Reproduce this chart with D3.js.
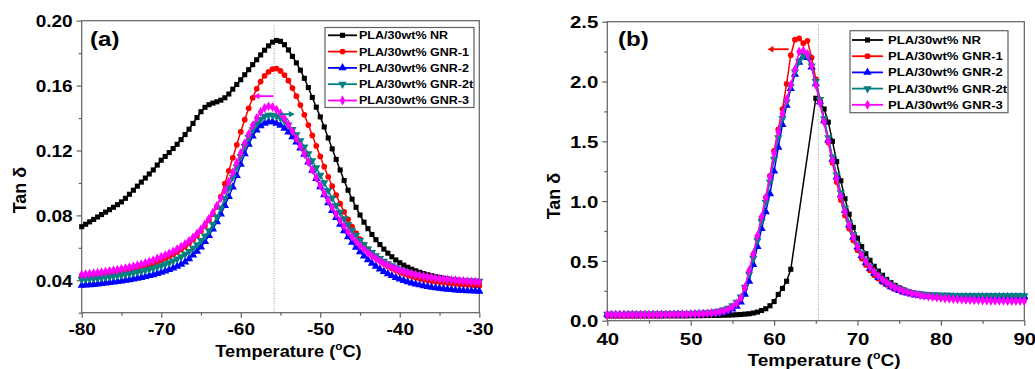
<!DOCTYPE html>
<html><head><meta charset="utf-8">
<script src="https://cdn.jsdelivr.net/npm/d3@7"></script>
<style>
body{margin:0;background:#fff;}
svg{display:block;font-family:"Liberation Sans",Arial,sans-serif;}
</style></head><body>
<svg id="chart" width="1035" height="369"></svg>
<script>
// ---------- data ----------
const seriesNames = ["PLA/30wt% NR","PLA/30wt% GNR-1","PLA/30wt% GNR-2","PLA/30wt% GNR-2t","PLA/30wt% GNR-3"];
const seriesColors = ["#000000","#ff0000","#0000ff","#008080","#ff00ff"];

// panel (a): temperature scan -80 .. -30 °C, 0.5 °C step
const tempA = d3.range(-80, -29.99, 0.5);
const nrA = [0.073,0.0745,0.076,0.0775,0.079,0.0805,0.082,0.0835,0.085,0.0866,
 0.0883,0.0905,0.093,0.0955,0.098,0.1005,0.103,0.1055,0.108,0.111,
 0.114,0.1163,0.1187,0.1212,0.1238,0.1267,0.1298,0.1331,0.1367,0.1403,
 0.1439,0.1466,0.1482,0.1492,0.15,0.151,0.1525,0.1548,0.1578,0.1607,
 0.1636,0.1667,0.1698,0.1729,0.1759,0.1789,0.1818,0.1845,0.1868,0.1878,
 0.1873,0.1852,0.182,0.178,0.174,0.1695,0.1645,0.1588,0.1527,0.1467,
 0.1407,0.1345,0.1277,0.121,0.1145,0.108,0.1015,0.0955,0.09,0.085,
 0.0802,0.0758,0.0718,0.0682,0.065,0.062,0.0592,0.0567,0.0545,0.0525,
 0.0508,0.0493,0.048,0.0468,0.0458,0.0449,0.0441,0.0434,0.0428,0.0422,
 0.0417,0.0412,0.0408,0.0404,0.0401,0.0398,0.0396,0.0394,0.0392,0.039,
 0.0388];
const gnr1A = [0.0425,0.0427,0.0429,0.0431,0.0434,0.0437,0.044,0.0443,0.0447,0.0451,
 0.0455,0.046,0.0465,0.047,0.0476,0.0482,0.0489,0.0496,0.0504,0.0513,
 0.0523,0.0534,0.0546,0.0559,0.0574,0.059,0.0608,0.0628,0.065,0.0675,
 0.0703,0.0734,0.0769,0.0808,0.0852,0.0915,0.0995,0.1075,0.1155,0.1235,
 0.1315,0.139,0.146,0.1525,0.158,0.1625,0.166,0.1685,0.1702,0.1705,
 0.169,0.1665,0.163,0.1585,0.1535,0.148,0.142,0.1357,0.1293,0.1228,
 0.1163,0.11,0.1038,0.098,0.0925,0.0872,0.0822,0.0775,0.0731,0.069,
 0.0653,0.062,0.059,0.0563,0.054,0.052,0.0502,0.0487,0.0473,0.0461,
 0.045,0.044,0.0432,0.0424,0.0417,0.0411,0.0405,0.04,0.0396,0.0392,
 0.0389,0.0386,0.0383,0.038,0.0378,0.0376,0.0374,0.0372,0.037,0.0368,
 0.0366];
const gnr2A = [0.0368,0.037,0.0372,0.0374,0.0376,0.0379,0.0382,0.0385,0.0388,0.0391,
 0.0395,0.0399,0.0403,0.0407,0.0412,0.0417,0.0422,0.0428,0.0434,0.0441,
 0.0448,0.0456,0.0465,0.0475,0.0486,0.0498,0.0512,0.0532,0.0555,0.0578,
 0.0605,0.0638,0.0675,0.0716,0.076,0.0808,0.086,0.0915,0.0975,0.1045,
 0.1115,0.118,0.1238,0.1288,0.1325,0.1352,0.1368,0.1377,0.1376,0.1368,
 0.1355,0.1337,0.1313,0.1284,0.1251,0.1215,0.1176,0.1128,0.1078,0.1027,
 0.0976,0.0926,0.0877,0.083,0.0786,0.0744,0.0705,0.0668,0.0634,0.0603,
 0.0575,0.0549,0.0526,0.0505,0.0486,0.0469,0.0454,0.044,0.0428,0.0417,
 0.0407,0.0398,0.039,0.0383,0.0377,0.0371,0.0366,0.0361,0.0357,0.0353,
 0.035,0.0347,0.0344,0.0342,0.034,0.0338,0.0336,0.0335,0.0334,0.0333,
 0.0332];
const gnr2tA = [0.0405,0.0407,0.0409,0.0411,0.0413,0.0416,0.0419,0.0422,0.0425,0.0429,
 0.0433,0.0437,0.0441,0.0446,0.0451,0.0456,0.0462,0.0468,0.0475,0.0482,
 0.049,0.0499,0.0509,0.052,0.0532,0.0546,0.0561,0.0578,0.0598,0.062,
 0.0645,0.0673,0.0705,0.0745,0.079,0.0845,0.0905,0.097,0.1035,0.11,
 0.1163,0.1225,0.128,0.1328,0.1365,0.1392,0.141,0.1418,0.1417,0.1411,
 0.14,0.1382,0.1358,0.133,0.1297,0.1261,0.1222,0.1181,0.1138,0.1094,
 0.1048,0.1001,0.0954,0.0907,0.0862,0.082,0.078,0.0743,0.0708,0.0676,
 0.0646,0.0619,0.0594,0.0572,0.0552,0.0534,0.0518,0.0503,0.049,0.0478,
 0.0467,0.0458,0.045,0.0443,0.0436,0.043,0.0425,0.0421,0.0417,0.0413,
 0.041,0.0407,0.0405,0.0403,0.0401,0.04,0.0399,0.0398,0.0397,0.0396,
 0.0395];
const gnr3A = [0.0435,0.0437,0.044,0.0443,0.0446,0.0449,0.0453,0.0457,0.0461,0.0465,
 0.047,0.0475,0.048,0.0486,0.0492,0.0499,0.0507,0.0515,0.0524,0.0534,
 0.0544,0.0555,0.0566,0.0578,0.0592,0.0607,0.0624,0.0643,0.0664,0.0688,
 0.0715,0.0746,0.078,0.0818,0.086,0.0906,0.0955,0.1008,0.1065,0.1125,
 0.1185,0.1245,0.1302,0.1355,0.14,0.1437,0.1462,0.1472,0.1468,0.1452,
 0.1428,0.1397,0.136,0.1318,0.1273,0.1226,0.1178,0.1129,0.108,0.1031,
 0.0983,0.0936,0.0891,0.0848,0.0807,0.0768,0.0732,0.0698,0.0667,0.0639,
 0.0613,0.059,0.0569,0.055,0.0533,0.0518,0.0504,0.0492,0.0481,0.0471,
 0.0462,0.0454,0.0447,0.0441,0.0435,0.043,0.0425,0.0421,0.0417,0.0413,
 0.041,0.0407,0.0404,0.0402,0.04,0.0398,0.0396,0.0394,0.0392,0.0391,
 0.039];

// panel (b): temperature scan 40 .. 90 °C, 0.5 °C step (null = no reading)
const tempB = d3.range(40, 90.01, 0.5);
const nrB = [0.04,0.04,0.04,0.04,0.04,0.04,0.04,0.04,0.04,0.04,
 0.04,0.04,0.04,0.04,0.041,0.041,0.041,0.041,0.041,0.041,
 0.042,0.042,0.042,0.043,0.043,0.044,0.044,0.045,0.046,0.047,
 0.048,0.05,0.052,0.055,0.058,0.064,0.072,0.085,0.1,0.125,
 0.16,0.22,0.27,0.33,0.43,null,null,null,null,null,
 1.86,1.83,1.77,1.66,1.5,1.33,1.17,1.02,0.89,0.78,
 0.69,0.62,0.56,0.505,0.455,0.415,0.38,0.345,0.318,0.295,
 0.275,0.258,0.245,0.234,0.225,0.218,0.212,0.207,0.203,0.2,
 0.198,0.197,0.196,0.195,0.194,0.194,0.193,0.193,0.192,0.192,
 0.191,0.191,0.19,0.19,0.19,0.189,0.189,0.189,0.188,0.188,
 0.188];
const gnr1B = [0.048,0.048,0.048,0.048,0.048,0.048,0.049,0.049,0.049,0.049,
 0.049,0.05,0.05,0.05,0.05,0.051,0.051,0.052,0.052,0.053,
 0.054,0.055,0.056,0.058,0.06,0.062,0.065,0.07,0.078,0.09,
 0.11,0.14,0.185,0.27,0.4,0.55,0.7,0.86,1.03,1.21,
 1.42,1.6,1.77,1.98,2.22,2.35,2.36,2.32,2.34,2.2,
 2.02,1.85,1.67,1.49,1.32,1.16,1.01,0.88,0.77,0.67,
 0.59,0.52,0.465,0.42,0.38,0.35,0.322,0.3,0.28,0.265,
 0.252,0.242,0.234,0.228,0.222,0.218,0.214,0.211,0.209,0.207,
 0.205,0.204,0.203,0.202,0.201,0.2,0.2,0.199,0.199,0.198,
 0.198,0.197,0.197,0.197,0.196,0.196,0.196,0.195,0.195,0.195,
 0.195];
const gnr2B = [0.05,0.05,0.05,0.05,0.05,0.05,0.05,0.05,0.05,0.05,
 0.05,0.051,0.051,0.051,0.052,0.052,0.052,0.053,0.053,0.054,
 0.055,0.056,0.057,0.058,0.059,0.06,0.062,0.066,0.072,0.082,
 0.097,0.12,0.155,0.22,0.33,0.47,0.62,0.77,0.91,1.06,
 1.25,1.45,1.64,1.8,1.94,2.06,2.16,2.21,2.2,2.12,
 1.98,1.83,1.67,1.51,1.35,1.2,1.05,0.92,0.8,0.7,
 0.615,0.545,0.485,0.435,0.395,0.36,0.33,0.305,0.284,0.266,
 0.252,0.24,0.23,0.222,0.215,0.21,0.206,0.203,0.201,0.2,
 0.2,0.2,0.2,0.2,0.2,0.2,0.2,0.2,0.2,0.2,
 0.2,0.2,0.2,0.2,0.2,0.2,0.2,0.2,0.2,0.2,
 0.2];
const gnr2tB = [0.055,0.055,0.055,0.055,0.055,0.056,0.056,0.056,0.056,0.057,
 0.057,0.057,0.058,0.058,0.058,0.059,0.059,0.06,0.06,0.061,
 0.062,0.063,0.064,0.066,0.068,0.071,0.075,0.082,0.092,0.105,
 0.125,0.155,0.2,0.28,0.39,0.52,0.67,0.83,0.99,1.16,
 1.35,1.53,1.69,1.83,1.96,2.08,2.17,2.22,2.21,2.13,
 2.0,1.85,1.69,1.53,1.37,1.22,1.07,0.94,0.82,0.72,
 0.635,0.565,0.505,0.455,0.413,0.378,0.348,0.322,0.3,0.282,
 0.267,0.255,0.245,0.237,0.231,0.226,0.222,0.219,0.217,0.215,
 0.214,0.213,0.213,0.212,0.212,0.212,0.211,0.211,0.211,0.211,
 0.21,0.21,0.21,0.21,0.21,0.21,0.21,0.21,0.21,0.21,
 0.21];
const gnr3B = [0.05,0.05,0.05,0.05,0.05,0.05,0.05,0.05,0.05,0.05,
 0.05,0.05,0.05,0.051,0.051,0.052,0.052,0.053,0.053,0.054,
 0.055,0.056,0.057,0.059,0.061,0.064,0.068,0.074,0.082,0.095,
 0.115,0.145,0.19,0.28,0.42,0.56,0.71,0.87,1.03,1.2,
 1.4,1.58,1.73,1.85,1.97,2.1,2.25,2.26,2.23,2.13,
 1.97,1.82,1.66,1.5,1.34,1.19,1.04,0.91,0.8,0.7,
 0.62,0.55,0.495,0.45,0.41,0.375,0.345,0.32,0.296,0.277,
 0.261,0.248,0.237,0.228,0.22,0.213,0.207,0.202,0.197,0.193,
 0.189,0.186,0.183,0.18,0.178,0.176,0.174,0.173,0.171,0.17,
 0.169,0.168,0.167,0.167,0.166,0.166,0.165,0.165,0.165,0.164,
 0.164];

// axis ticks
const xTicksA = [-80,-70,-60,-50,-40,-30];
const xMinorA = [-75,-65,-55,-45,-35];
const yTicksA = [0.04,0.08,0.12,0.16,0.20];
const yMinorA = [0.02,0.06,0.10,0.14,0.18];
const xTicksB = [40,50,60,70,80,90];
const xMinorB = [45,55,65,75,85];
const yTicksB = [0,0.5,1.0,1.5,2.0,2.5];
const yMinorB = [0.25,0.75,1.25,1.75,2.25];

// annotations (data units)
const peakLineA = -55.8;
const peakLineB = 65.3;
const arrowsA = [{from:-55.9,to:-58.4,v:0.1535,color:"#ff00ff"},{from:-55.1,to:-53.2,v:0.1424,color:"#008080"}];
const arrowsB = [{from:61.75,to:59.2,v:2.27,color:"#ff0000"}];

// ---------- drawing ----------
const svg = d3.select("#chart");
const symbols = [
  {type:d3.symbolSquare, size:26, rot:0},
  {type:d3.symbolCircle, size:26, rot:0},
  {type:d3.symbolTriangle, size:30, rot:0},
  {type:d3.symbolTriangle, size:30, rot:180},
  {type:d3.symbolDiamond, size:28, rot:0}
];
const FRAME = "#606060";

function drawPanel(cfg){
  const g = svg.append("g");
  const x = d3.scaleLinear().domain(cfg.xDomain).range(cfg.xRange);
  const y = d3.scaleLinear().domain(cfg.yDomain).range(cfg.yRange);
  const [x0,x1] = cfg.xRange, [yb,yt] = cfg.yRange;

  // minor ticks
  g.append("g").attr("transform",`translate(0,${yb})`)
    .call(d3.axisBottom(x).tickValues(cfg.xMinor).tickSize(3).tickFormat(""))
    .call(a=>a.select(".domain").remove())
    .call(a=>a.selectAll("line").attr("stroke",FRAME).attr("stroke-width",1.2));
  g.append("g").attr("transform",`translate(${x0},0)`)
    .call(d3.axisLeft(y).tickValues(cfg.yMinor).tickSize(3).tickFormat(""))
    .call(a=>a.select(".domain").remove())
    .call(a=>a.selectAll("line").attr("stroke",FRAME).attr("stroke-width",1.2));
  // major ticks + labels
  const ax = g.append("g").attr("transform",`translate(0,${yb})`)
    .call(d3.axisBottom(x).tickValues(cfg.xTicks).tickSize(5).tickSizeOuter(0).tickFormat(d=>String(d)));
  ax.select(".domain").remove();
  ax.selectAll("line").attr("stroke",FRAME).attr("stroke-width",1.2);
  ax.selectAll("text").attr("y",cfg.xLabelY).attr("dy",null)
    .attr("transform",`scale(${cfg.tickSx},1)`)
    .style("font-size","17px").style("font-weight","bold").attr("fill","#000");
  const ay = g.append("g").attr("transform",`translate(${x0},0)`)
    .call(d3.axisLeft(y).tickValues(cfg.yTicks).tickSize(5).tickSizeOuter(0).tickFormat(d3.format(cfg.yFmt)));
  ay.select(".domain").remove();
  ay.selectAll("line").attr("stroke",FRAME).attr("stroke-width",1.2);
  ay.selectAll("text").attr("x",-cfg.yLabelGap/cfg.tickSx).attr("dy","0.36em")
    .attr("transform",`scale(${cfg.tickSx},1)`)
    .style("font-size","17px").style("font-weight","bold").attr("fill","#000");

  // frame
  g.append("rect").attr("x",x0).attr("y",yt).attr("width",x1-x0).attr("height",yb-yt)
    .attr("fill","none").attr("stroke",FRAME).attr("stroke-width",1.2);

  // dotted guide
  g.append("line").attr("x1",x(cfg.guide)).attr("x2",x(cfg.guide))
    .attr("y1",y(cfg.guideTop)).attr("y2",yb)
    .attr("stroke","#9a9a9a").attr("stroke-width",1).attr("stroke-dasharray","1,1.5");

  // series
  const line = d3.line().x(d=>x(d[0])).y(d=>y(d[1]));
  cfg.series.forEach((vals,i)=>{
    const pts = cfg.temps.map((t,j)=>[t,vals[j]]).filter(d=>d[1]!=null);
    g.append("path").attr("d",line(pts)).attr("fill","none")
      .attr("stroke",seriesColors[i]).attr("stroke-width",1.5);
    const s = symbols[i];
    const sym = d3.symbol().type(s.type).size(s.size)();
    g.append("g").selectAll("path").data(pts).join("path")
      .attr("d",sym)
      .attr("transform",d=>`translate(${x(d[0])},${y(d[1])}) rotate(${s.rot})`)
      .attr("fill",seriesColors[i]);
  });

  // arrows
  cfg.arrows.forEach(a=>{
    const xa=x(a.from), xb=x(a.to), yy=y(a.v);
    const dir = xb<xa?-1:1;
    g.append("line").attr("x1",xa).attr("x2",xb-dir*4).attr("y1",yy).attr("y2",yy)
      .attr("stroke",a.color).attr("stroke-width",1.8);
    g.append("path").attr("d",`M${xb},${yy} L${xb-dir*6},${yy-3.2} L${xb-dir*6},${yy+3.2} Z`)
      .attr("fill",a.color);
  });

  // legend
  const L = cfg.legend;
  const lg = g.append("g");
  lg.append("rect").attr("x",L.x).attr("y",L.y).attr("width",L.w).attr("height",L.h)
    .attr("fill","#fff").attr("stroke",FRAME).attr("stroke-width",1.2);
  seriesNames.forEach((n,i)=>{
    const yy = L.row0 + i*L.dy;
    lg.append("line").attr("x1",L.lx0).attr("x2",L.lx1).attr("y1",yy).attr("y2",yy)
      .attr("stroke",seriesColors[i]).attr("stroke-width",1.8);
    const s = symbols[i];
    lg.append("path").attr("d",d3.symbol().type(s.type).size(s.size)())
      .attr("transform",`translate(${(L.lx0+L.lx1)/2},${yy}) rotate(${s.rot})`)
      .attr("fill",seriesColors[i]);
    lg.append("text").attr("transform",`translate(${L.tx},${yy}) scale(${L.sx},1)`)
      .attr("dy","0.36em").style("font-size","11px").style("font-weight","bold")
      .attr("fill","#000").text(n);
  });

  // panel label
  g.append("text").attr("transform",`translate(${cfg.tag.x},${cfg.tag.y}) scale(1.15,1)`)
    .style("font-size","21px").style("font-weight","bold").text(cfg.tag.text);

  // axis titles
  const xt = g.append("text").attr("transform",`translate(${cfg.xTitle.x},${cfg.xTitle.y}) scale(${cfg.xTitle.sx},1)`)
    .attr("text-anchor","middle").style("font-size","17px").style("font-weight","bold");
  xt.append("tspan").text("Temperature (");
  xt.append("tspan").attr("dy",-7).style("font-size","11px").text("o");
  xt.append("tspan").attr("dy",7).text("C)");
  g.append("text").attr("transform",`translate(${cfg.yTitle.x},${cfg.yTitle.y}) rotate(-90)`)
    .attr("text-anchor","middle").style("font-size","18px").style("font-weight","bold")
    .text("Tan δ");
}

drawPanel({
  xDomain:[-80,-30], yDomain:[0.02,0.20], xRange:[81.7,479.3], yRange:[312.7,20.7],
  xTicks:xTicksA, xMinor:xMinorA, yTicks:yTicksA, yMinor:yMinorA, yFmt:".2f",
  xLabelY:22.5, yLabelGap:9, tickSx:1.12,
  guide:peakLineA, guideTop:0.197,
  temps:tempA, series:[nrA,gnr1A,gnr2A,gnr2tA,gnr3A], arrows:arrowsA,
  legend:{x:325,y:27.5,w:149,h:80,row0:35.3,dy:16.3,lx0:328,lx1:357,tx:359,sx:1.14},
  tag:{x:90,y:46,text:"(a)"},
  xTitle:{x:288.5,y:357,sx:1.07}, yTitle:{x:26,y:190}
});
drawPanel({
  xDomain:[40,90], yDomain:[0,2.5], xRange:[607.3,1024.3], yRange:[320.7,21.7],
  xTicks:xTicksB, xMinor:xMinorB, yTicks:yTicksB, yMinor:yMinorB, yFmt:".1f",
  xLabelY:24.5, yLabelGap:9, tickSx:1.2,
  guide:peakLineB, guideTop:2.48,
  temps:tempB, series:[nrB,gnr1B,gnr2B,gnr2tB,gnr3B], arrows:arrowsB,
  legend:{x:850,y:30.7,w:158,h:82,row0:40,dy:16.2,lx0:852,lx1:883,tx:888,sx:1.19},
  tag:{x:618,y:46,text:"(b)"},
  xTitle:{x:824,y:365.5,sx:1.12}, yTitle:{x:560,y:196}
});
</script>
</body></html>
